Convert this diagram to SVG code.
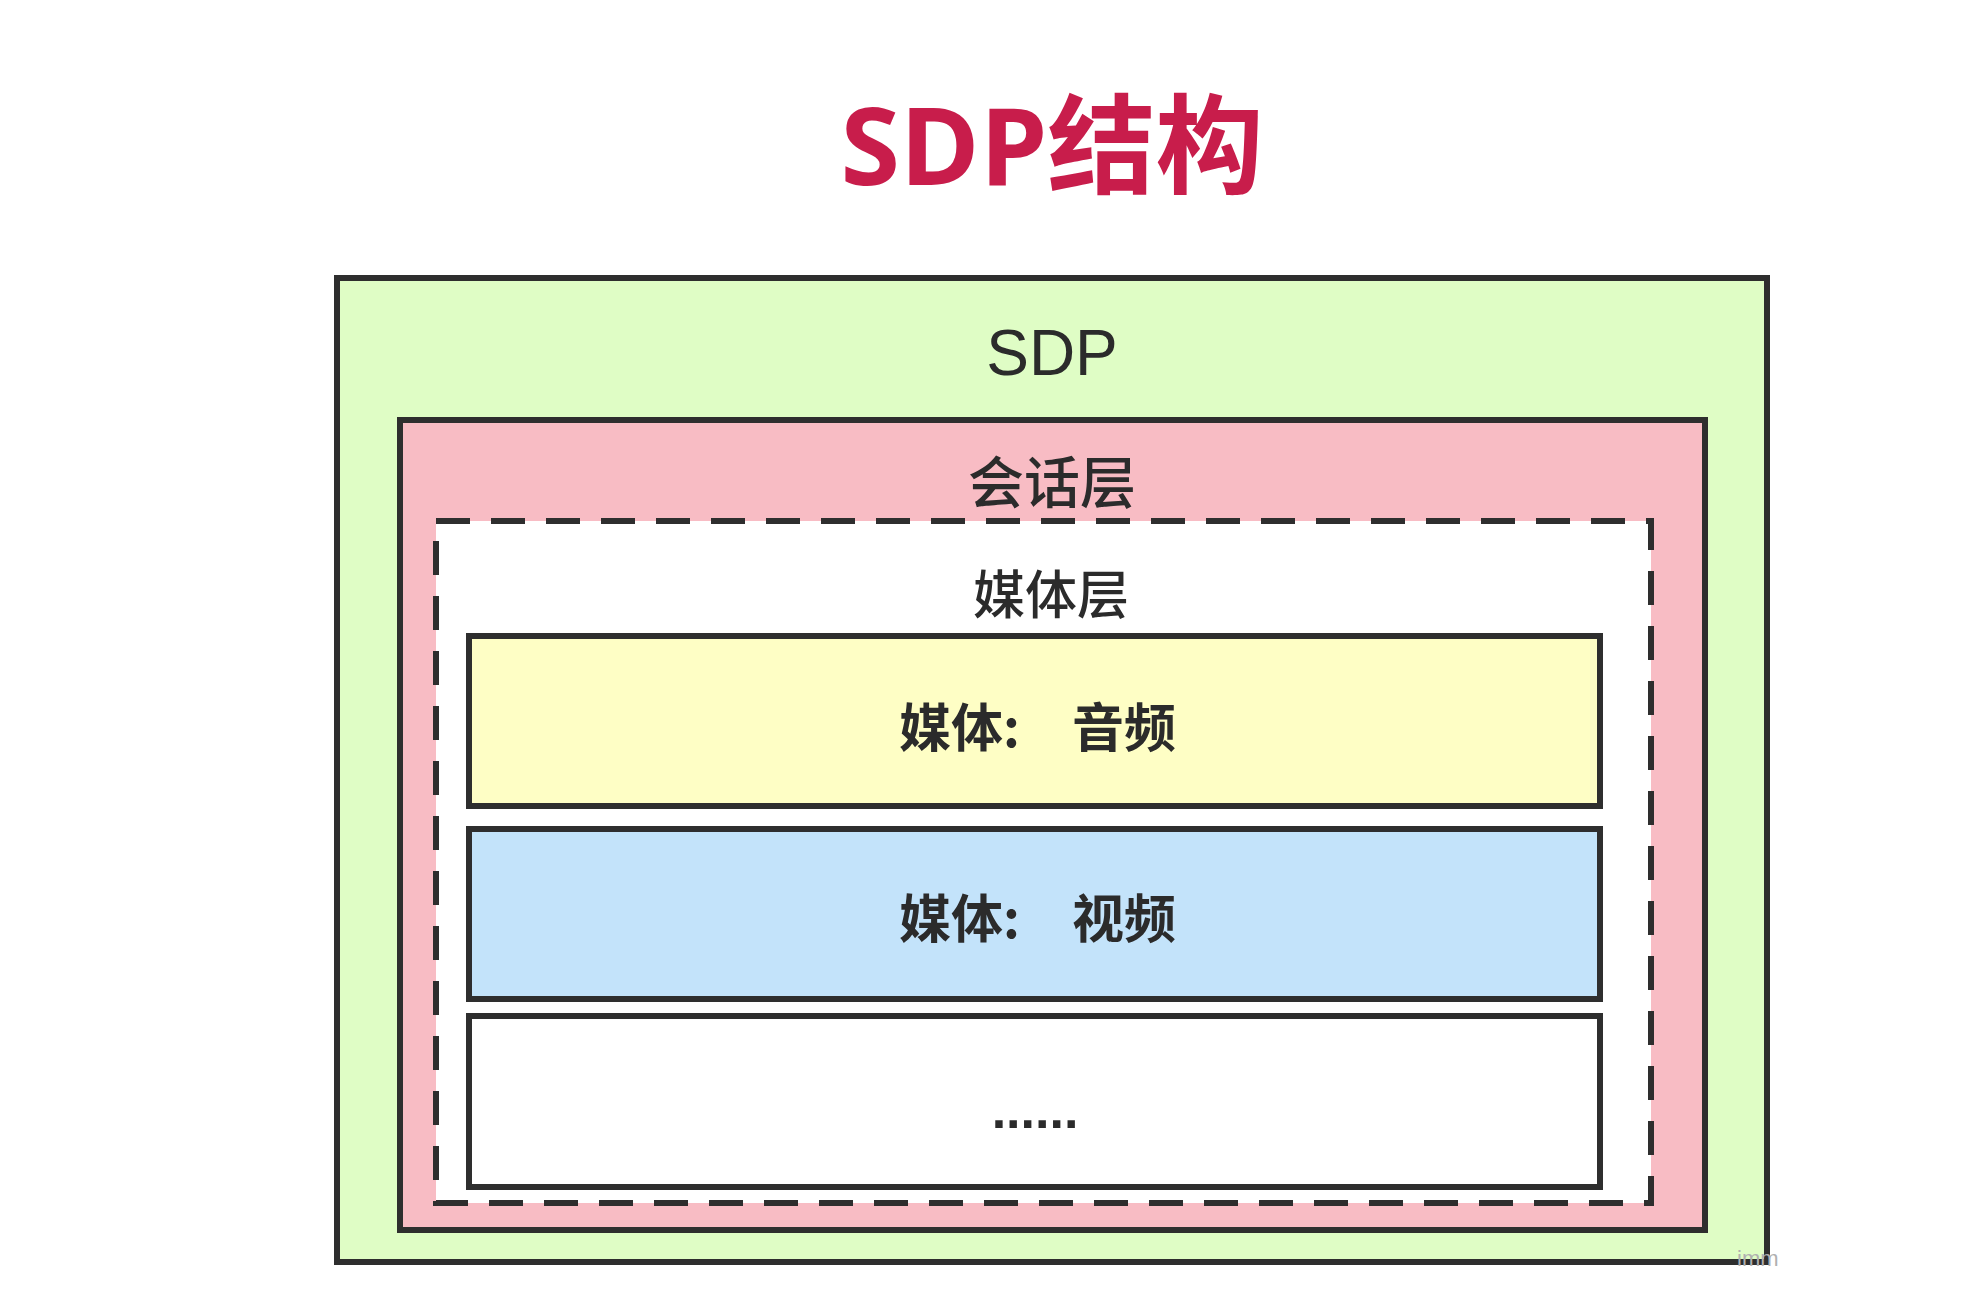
<svg xmlns="http://www.w3.org/2000/svg" width="1978" height="1298" viewBox="0 0 1978 1298">
  <style>
    .box { stroke: #2e2e2e; stroke-width: 6; }
    .dash { fill: #ffffff; stroke: #2e2e2e; stroke-width: 6; stroke-dasharray: 34 21; }
    .lbl { fill: #2b2b2b; font-family: "Noto Sans CJK SC", "Noto Sans", sans-serif; }
    .media { font-size: 52px; font-weight: 600; }
  </style>
  <rect x="0" y="0" width="1978" height="1298" fill="#ffffff"/>
  <g id="title">
    <text x="1052" y="185" text-anchor="middle" font-family="'Open Sans', 'Noto Sans CJK SC', sans-serif" font-weight="700" font-size="108" fill="#c81d4b">SDP结构</text>
  </g>
  <g id="sdp">
    <rect class="box" x="337" y="278" width="1430" height="984" fill="#dffdc5"/>
    <text x="1052" y="375" text-anchor="middle" font-family="'Liberation Sans', Arial, sans-serif" font-size="64" fill="#2b2b2b">SDP</text>
  </g>
  <g id="session-layer">
    <rect class="box" x="400" y="420" width="1305" height="810" fill="#f8bcc4"/>
    <text class="lbl" x="1052" y="503" text-anchor="middle" font-size="56" font-weight="500">会话层</text>
  </g>
  <g id="media-layer">
    <rect class="dash" x="436" y="521" width="1215" height="682"/>
    <text class="lbl" x="1051" y="614" text-anchor="middle" font-size="52" font-weight="500">媒体层</text>
  </g>
  <g id="media-audio">
    <rect class="box" x="469" y="636" width="1131" height="170" fill="#fefec5"/>
    <text class="lbl media" x="899" y="747">媒体:<tspan x="1072">音频</tspan></text>
  </g>
  <g id="media-video">
    <rect class="box" x="469" y="829" width="1131" height="170" fill="#c3e3fa"/>
    <text class="lbl media" x="899" y="938">媒体:<tspan x="1072">视频</tspan></text>
  </g>
  <g id="media-more">
    <rect class="box" x="469" y="1016" width="1131" height="171" fill="#ffffff"/>
    <text x="1035" y="1128" text-anchor="middle" font-family="'Liberation Sans', Arial, sans-serif" font-weight="700" font-size="52" fill="#2b2b2b">......</text>
  </g>
  <g id="connectors"></g>
  <text x="1737" y="1266" font-family="'Liberation Sans', Arial, sans-serif" font-size="22" fill="#b0b0b0">imm</text>
</svg>
